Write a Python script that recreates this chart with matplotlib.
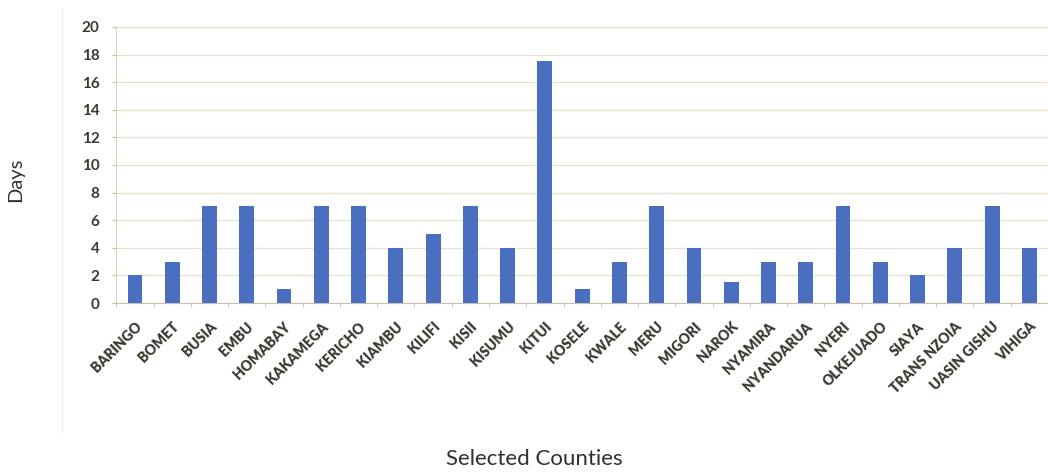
import matplotlib
matplotlib.use("Agg")
import matplotlib.pyplot as plt
from matplotlib.lines import Line2D
import numpy as np

counties = ["BARINGO", "BOMET", "BUSIA", "EMBU", "HOMABAY", "KAKAMEGA", "KERICHO",
            "KIAMBU", "KILIFI", "KISII", "KISUMU", "KITUI", "KOSELE", "KWALE", "MERU",
            "MIGORI", "NAROK", "NYAMIRA", "NYANDARUA", "NYERI", "OLKEJUADO", "SIAYA",
            "TRANS NZOIA", "UASIN GISHU", "VIHIGA"]
days = [2, 3, 7, 7, 1, 7, 7, 4, 5, 7, 4, 17.5, 1, 3, 7, 4, 1.5, 3, 3, 7, 3, 2, 4, 7, 4]
y_ticks = [0, 2, 4, 6, 8, 10, 12, 14, 16, 18, 20]

plt.rcParams['font.family'] = ['Lato', 'DejaVu Sans']

fig = plt.figure(figsize=(10.48, 4.72), dpi=100)
ax = fig.add_axes([0.111, 0.358, 0.889, 0.585])

x = np.arange(len(counties))
ax.bar(x, days, width=0.4, color="#4A6FC0", zorder=3)

ax.set_xlim(-0.5, len(counties) - 0.5)
ax.set_ylim(0, 20)
ax.set_yticks(y_ticks)
ax.set_yticklabels([str(v) for v in y_ticks], fontsize=11, fontweight="bold",
                   color="#3a3a30")
ax.yaxis.grid(True, color="#E8E0CC", linewidth=0.9, zorder=0)
ax.set_axisbelow(True)

ax.set_xticks(x)
ax.set_xticklabels(counties, rotation=45, ha="right", va="top", rotation_mode="anchor",
                   fontsize=10, fontweight="heavy", color="#3a3a30")
ax.tick_params(axis="x", which="major", length=0, pad=12)
ax.set_xticks(np.arange(-0.5, len(counties), 1.0), minor=True)
ax.tick_params(axis="x", which="minor", length=3, color="#C8C0A8", direction="out")
ax.tick_params(axis="y", length=3, color="#C8C0A8", pad=9)

for s in ["top", "right"]:
    ax.spines[s].set_visible(False)
ax.spines["left"].set_color("#D8D0B8")
ax.spines["bottom"].set_color("#C8C0A8")

fig.text(0.015, 0.62, "Days", rotation=90, fontsize=14.5, color="#303030",
         ha="center", va="center")
fig.text(0.51, 0.028, "Selected Counties", fontsize=16, color="#303030",
         ha="center", va="center")

fig.add_artist(Line2D([0.059, 0.059], [1 - 8 / 472, 1 - 432 / 472],
                      transform=fig.transFigure, color="#EBEBEB", linewidth=1))

fig.savefig("out.png", dpi=100)
